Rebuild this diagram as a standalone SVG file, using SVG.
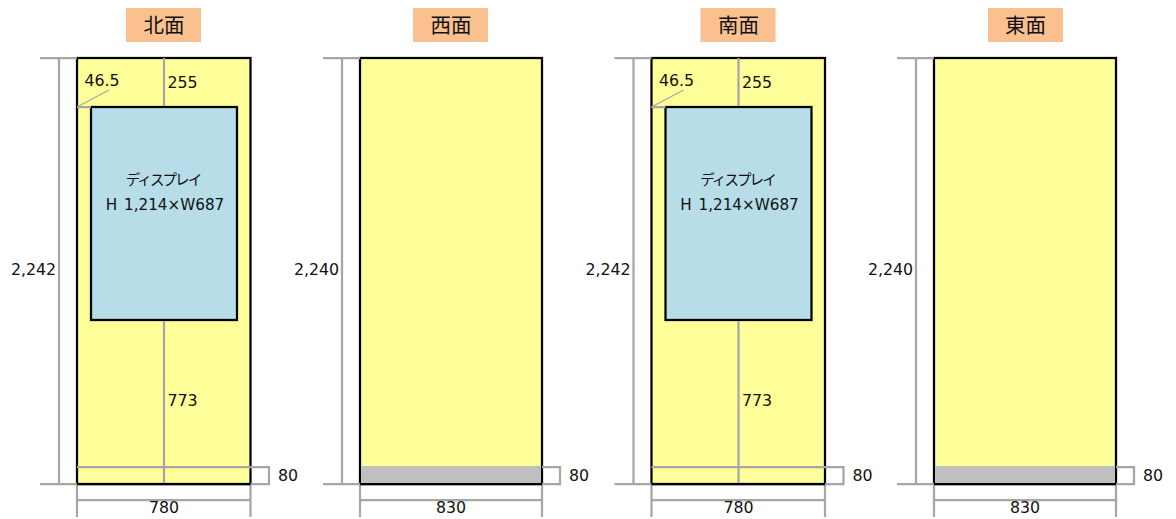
<svg xmlns="http://www.w3.org/2000/svg" width="1176" height="519" viewBox="0 0 1176 519">
<style>
.title{fill:#fac090}
.wall{fill:#ffff99;stroke:#000;stroke-width:2.25}
.disp{fill:#b7dde8;stroke:#000;stroke-width:2.25}
.edge{fill:none;stroke:#000;stroke-width:2.25}
.base{fill:#bfbfbf}
.dim{fill:none;stroke:#a6a6a6;stroke-width:2.25}
.thin{fill:none;stroke:#a6a6a6;stroke-width:1.25}
text{font-family:"DejaVu Sans","Noto Sans CJK JP",sans-serif;font-size:15.8px;fill:#111;text-anchor:middle}
text.t{font-family:"Noto Sans CJK JP",sans-serif;font-size:20.5px}
text.d{font-family:"Noto Sans CJK JP",sans-serif;font-size:14.5px;letter-spacing:-1.9px}
text.h{font-size:15.2px;word-spacing:2px}
</style>
<defs>
<g id="dimsNS">
<path class="dim" d="M40 58H77M59 58V484M40 484H77"/>
<path class="dim" d="M77 467H269V484H250M77 484V517M250.500 484V517M77 500H250.500"/>
<path class="dim" d="M164 58V106M164 321V484M77 107H91"/>
<path class="thin" d="M77 107L109 90"/>
</g>
<g id="dimsEW">
<path class="dim" d="M323 58H360M342 58V484M323 484H360"/>
<path class="dim" d="M542 467H560V484H542M360 484V517M542 484V517M360 500H542"/>
</g>
</defs>
<g id="north">
<rect class="title" x="126" y="8" width="75" height="34"/>
<text class="t" x="164" y="33">北面</text>
<rect class="wall" x="77" y="58" width="173.500" height="426"/>
<rect class="disp" x="91" y="107" width="146" height="213"/>
<text class="d" x="163" y="184.500">ディスプレイ</text>
<text class="h" x="165" y="209.500">H 1,214×W687</text>
<use href="#dimsNS"/>
<path class="edge" d="M77 484H250.500"/>
<text x="33.500" y="275">2,242</text><text x="102" y="86">46.5</text><text x="182.500" y="88">255</text><text x="182.500" y="406">773</text><text x="288" y="481">80</text><text x="164" y="513">780</text>
</g>
<g id="west">
<rect class="title" x="413" y="8" width="75" height="34"/>
<text class="t" x="451" y="33">西面</text>
<rect class="wall" x="360" y="58" width="182" height="426"/>
<rect class="base" x="361" y="466" width="180" height="17"/>
<use href="#dimsEW"/>
<path class="edge" d="M360 484H542"/>
<text x="316.500" y="275">2,240</text><text x="579" y="481">80</text><text x="451" y="513">830</text>
</g>
<g id="south" transform="translate(574.500 0)">
<rect class="title" x="126" y="8" width="75" height="34"/>
<text class="t" x="164" y="33">南面</text>
<rect class="wall" x="77" y="58" width="173.500" height="426"/>
<rect class="disp" x="91" y="107" width="146" height="213"/>
<text class="d" x="163" y="184.500">ディスプレイ</text>
<text class="h" x="165" y="209.500">H 1,214×W687</text>
<use href="#dimsNS"/>
<path class="edge" d="M77 484H250.500"/>
<text x="33.500" y="275">2,242</text><text x="102" y="86">46.5</text><text x="182.500" y="88">255</text><text x="182.500" y="406">773</text><text x="288" y="481">80</text><text x="164" y="513">780</text>
</g>
<g id="east" transform="translate(574 0)">
<rect class="title" x="414" y="8" width="75" height="34"/>
<text class="t" x="451.500" y="33">東面</text>
<rect class="wall" x="360" y="58" width="182" height="426"/>
<rect class="base" x="361" y="466" width="180" height="17"/>
<use href="#dimsEW"/>
<path class="edge" d="M360 484H542"/>
<text x="316.500" y="275">2,240</text><text x="579" y="481">80</text><text x="451" y="513">830</text>
</g>
</svg>
